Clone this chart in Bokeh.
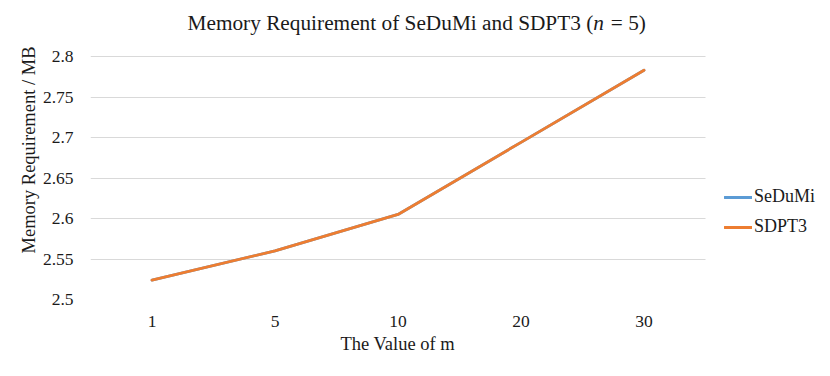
from bokeh.plotting import figure
from bokeh.models import Range1d, FixedTicker, Legend, LegendItem, Title, Grid, Label
from bokeh.embed import file_html
from bokeh.resources import INLINE

# ---- data ----
m_values = ["1", "5", "10", "20", "30"]
sedumi_mb = [2.524, 2.560, 2.605, 2.694, 2.783]
sdpt3_mb = [2.524, 2.560, 2.605, 2.694, 2.783]
y_ticks = [2.5, 2.55, 2.6, 2.65, 2.7, 2.75, 2.8]
y_tick_labels = ["2.5", "2.55", "2.6", "2.65", "2.7", "2.75", "2.8"]
series_names = ["SeDuMi", "SDPT3"]
title_parts = ["Memory Requirement of SeDuMi and SDPT3 (", "n", " = 5)"]
xlabel = "The Value of m"
ylabel = "Memory Requirement / MB"

FONT = "Liberation Serif"
TXT = "#1a1a1a"
BLUE = "#5B9BD5"
ORANGE = "#ED7D31"

# layout in pixels
FW, FH = 822, 368
LEFT, DATA_W, LEG_W = 90, 615, 117
DATA_TOP, DATA_BOTTOM = 56, 299

pos = list(range(len(m_values)))
n_cat = len(m_values)
x_start, x_data_end = -0.5, n_cat - 0.5
x_end = x_data_end + LEG_W / (DATA_W / n_cat)
y_lo, y_hi = y_ticks[0], y_ticks[-1]
# frame extends up to the top of the canvas (title area lives inside the frame)
y_top = y_lo + (y_hi - y_lo) * DATA_BOTTOM / (DATA_BOTTOM - DATA_TOP)

p = figure(width=FW, height=FH, x_range=Range1d(x_start, x_end),
           y_range=Range1d(y_lo, y_top), output_backend="svg", toolbar_location=None,
           min_border_left=LEFT, min_border_right=0, min_border_top=0,
           min_border_bottom=FH - DATA_BOTTOM)
p.title = None
p.outline_line_color = None

r1 = p.line(pos, sedumi_mb, line_color=BLUE, line_width=2.8, line_cap="round", line_join="round")
r2 = p.line(pos, sdpt3_mb, line_color=ORANGE, line_width=2.8, line_cap="round", line_join="round")

p.xgrid.grid_line_color = None
p.ygrid.grid_line_color = "#d9d9d9"
p.ygrid.grid_line_width = 1.2
if "cross_bounds" in Grid.properties():
    p.ygrid.cross_bounds = (x_start, x_data_end)

p.xaxis.ticker = FixedTicker(ticks=pos)
p.xaxis.major_label_overrides = {i: m for i, m in zip(pos, m_values)}
p.yaxis.ticker = FixedTicker(ticks=y_ticks)
p.yaxis.major_label_overrides = {t: l for t, l in zip(y_ticks, y_tick_labels)}
p.yaxis.bounds = (y_lo, y_hi)
p.xaxis.bounds = (x_start, x_data_end)
for ax in (p.xaxis[0], p.yaxis[0]):
    ax.axis_line_color = None
    ax.major_tick_line_color = None
    ax.minor_tick_line_color = None
    ax.major_tick_out = 0
    ax.major_tick_in = 0
    ax.major_label_text_font = FONT
    ax.major_label_text_font_size = "17.5px"
    ax.major_label_text_color = TXT
    ax.axis_label_text_font = FONT
    ax.axis_label_text_font_size = "18.5px"
    ax.axis_label_text_font_style = "normal"
    ax.axis_label_text_color = TXT
p.yaxis.major_label_standoff = 17
p.xaxis.major_label_standoff = 16
p.yaxis.axis_label = ylabel
p.yaxis.axis_label_standoff = 1

# x-axis title below the tick labels, placed over the data area
p.add_layout(Title(text=xlabel, align="left", offset=250, text_font=FONT,
                   text_font_size="18.5px", text_font_style="normal", text_color=TXT,
                   standoff=4), "below")

# chart title made of pieces so that n is italic
W = {" ": 250, "(": 333, ")": 333, "=": 564, "5": 500, "M": 889, "e": 444, "m": 778, "o": 500,
     "r": 333, "y": 500, "R": 667, "q": 500, "u": 500, "i": 278, "t": 278, "f": 333, "S": 556,
     "D": 722, "P": 556, "T": 611, "3": 500, "a": 444, "d": 500, "n": 500}
TS = 21.3


def adv(s):
    return sum(W.get(c, 500) for c in s) * TS / 1000.0


x0 = 187 - LEFT
for part, st in zip(title_parts, ["normal", "italic", "normal"]):
    lead = part[:len(part) - len(part.lstrip(" "))]
    x0 += adv(lead)
    body = part.lstrip(" ")
    p.add_layout(Label(x=x0, y=DATA_BOTTOM - 22, x_units="screen", y_units="screen", text=body,
                       text_font=FONT, text_font_size=f"{TS}px", text_font_style=st,
                       text_color=TXT, text_baseline="alphabetic", text_align="left"))
    x0 += adv(body) + (1.5 if st == "italic" else 0)

legend = Legend(items=[LegendItem(label=series_names[0], renderers=[r1]),
                       LegendItem(label=series_names[1], renderers=[r2])],
                location=(634, 62), padding=0, margin=0, spacing=9,
                glyph_width=28, glyph_height=20, label_height=20, label_standoff=2,
                label_text_font=FONT, label_text_font_size="18px", label_text_color=TXT,
                border_line_color=None, background_fill_alpha=0)
p.add_layout(legend, "center")

open("out.html", "w").write(file_html(p, INLINE))
